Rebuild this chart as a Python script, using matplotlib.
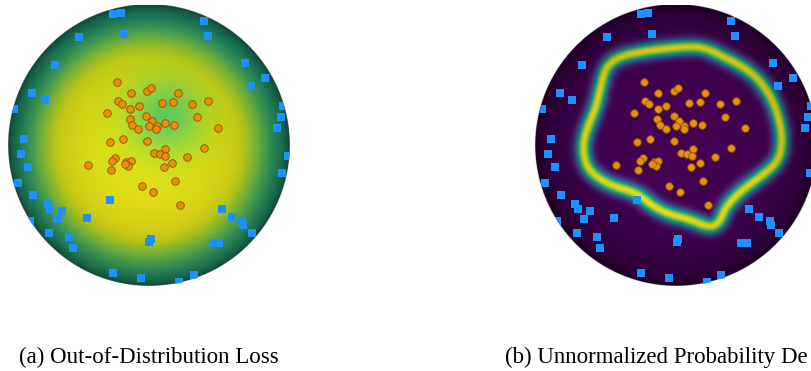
import numpy as np
import matplotlib.pyplot as plt
from matplotlib.patches import Circle

# in-distribution samples (unit-disc coordinates)
id_x = [-0.229, -0.128, -0.016, 0.012, 0.204, 0.421, -0.220, -0.194, -0.073, -0.133,
        0.092, 0.168, 0.305, -0.300, -0.137, -0.021, 0.343, -0.118, -0.076, 0.021,
        -0.002, 0.055, 0.050, 0.116, 0.179, 0.487, -0.277, -0.187, -0.016, 0.388,
        0.116, 0.035, 0.078, 0.111, 0.270, -0.241, -0.260, -0.163, -0.130, -0.147,
        -0.172, -0.430, -0.270, 0.165, 0.104, 0.187, -0.052, 0.026, 0.222]
id_y = [0.448, 0.370, 0.387, 0.410, 0.374, 0.318, 0.316, 0.294, 0.280, 0.259,
        0.299, 0.309, 0.292, 0.233, 0.190, 0.209, 0.200, 0.148, 0.119, 0.172,
        0.138, 0.138, 0.115, 0.157, 0.148, 0.124, 0.027, 0.048, 0.030, -0.016,
        -0.025, -0.053, -0.058, -0.077, -0.079, -0.087, -0.110, -0.119, -0.108, -0.145,
        -0.133, -0.138, -0.174, -0.124, -0.155, -0.252, -0.289, -0.332, -0.420]

# out-of-distribution samples
ood_x = [-0.253, -0.201, -0.177, -0.494, 0.390, 0.416, 0.681, 0.823, 0.721, 0.952,
         0.936, 0.910, 0.984, 0.945, 0.516, 0.587, 0.662, 0.669, 0.730, 0.456,
         0.499, 0.012, 0.002, -0.253, -0.055, 0.215, 0.319, -0.277, -0.931, -0.821,
         -0.718, -0.700, -0.615, -0.655, -0.442, -0.844, -0.707, -0.567, -0.541, -0.957,
         -0.828, -0.738, -0.667, -0.860, -0.910, -0.887]
ood_y = [0.933, 0.938, 0.789, 0.772, 0.883, 0.777, 0.587, 0.477, 0.422, 0.282,
         0.200, 0.124, -0.074, -0.193, -0.452, -0.505, -0.535, -0.562, -0.618, -0.689,
         -0.694, -0.663, -0.687, -0.906, -0.942, -0.966, -0.918, -0.387, -0.264, -0.349,
         -0.415, -0.448, -0.462, -0.521, -0.516, -0.533, -0.618, -0.647, -0.725, 0.257,
         0.370, 0.323, 0.571, -0.150, -0.062, 0.044]

# ridge of the density (traced outline)
ring_x = [0.143, 0.238, 0.332, 0.474, 0.592, 0.687, 0.734, 0.757, 0.734, 0.640,
          0.474, 0.356, 0.309, 0.238, 0.096, -0.046, -0.165, -0.282, -0.448, -0.578,
          -0.649, -0.661, -0.626, -0.566, -0.530, -0.495, -0.401, -0.235, -0.046]
ring_y = [0.701, 0.677, 0.630, 0.559, 0.465, 0.323, 0.181, 0.039, -0.103, -0.197,
          -0.316, -0.434, -0.552, -0.587, -0.528, -0.493, -0.434, -0.339, -0.292, -0.221,
          -0.126, 0.016, 0.133, 0.275, 0.441, 0.559, 0.630, 0.665, 0.689]

captions = ['(a) Out-of-Distribution Loss', '(b) Unnormalized Probability De']

# grid over the disc
N = 600
g = np.linspace(-1, 1, N)
X, Y = np.meshgrid(g, g)
R = np.hypot(X, Y)
Z = np.sqrt(np.clip(1 - R**2, 0, 1))
shade = 0.2 + 0.8 * Z**0.6
alpha = np.clip((1 - R) * N / 2 + 0.5, 0, 1)


def smoothstep(a, b, t):
    u = np.clip((t - a) / (b - a), 0, 1)
    return u * u * (3 - 2 * u)


def chaikin(px, py, n=4):
    p = np.column_stack([px, py])
    for _ in range(n):
        q = np.roll(p, -1, axis=0)
        p = np.stack([0.75 * p + 0.25 * q, 0.25 * p + 0.75 * q], axis=1).reshape(-1, 2)
    return p[:, 0], p[:, 1]


def shaded(v):
    rgba = plt.cm.viridis(np.clip(v, 0, 1))
    rgba[..., :3] *= shade[..., None]
    rgba[..., 3] = alpha
    return rgba


# loss landscape
loss = (0.955 - 0.02 * Y
        - 0.19 * np.exp(-((X - 0.12)**2 + (Y - 0.2)**2) / (2 * 0.19**2))
        - 0.34 * smoothstep(0.6, 1.0, R))

# density ridge
cx, cy = chaikin(ring_x, ring_y)
dist = np.empty_like(X)
for i in range(N):
    dist[i] = np.min(np.hypot(X[i][:, None] - cx[None, :], Y[i][:, None] - cy[None, :]), axis=1)
dens = np.exp(-dist**2 / (2 * 0.037**2))

fig = plt.figure(figsize=(8.12, 3.71), dpi=100)
W, H = 812, 371
positions = [[8 / W, (H - 286.5) / H, 282 / W, 282 / H],
             [535.5 / W, (H - 286.5) / H, 282 / W, 282 / H]]

for pos, field in zip(positions, [loss, dens]):
    ax = fig.add_axes(pos)
    ax.imshow(shaded(field), origin='lower', extent=(-1, 1, -1, 1), zorder=1)
    circ = Circle((0, 0), 1, transform=ax.transData)
    sq = ax.scatter(ood_x, ood_y, s=27, marker='s', c='#1e90ff', linewidths=0, zorder=3)
    sq.set_clip_path(circ)
    ax.scatter(id_x, id_y, s=30, marker='o', c='#e8900a', edgecolors='#8c5000',
               linewidths=0.6, zorder=4)
    ax.set_xlim(-1, 1)
    ax.set_ylim(-1, 1)
    ax.axis('off')

fig.text(149 / W, 8 / H, captions[0], ha='center', va='baseline',
         fontsize=16.5, family='Liberation Serif')
fig.text(505 / W, 8 / H, captions[1], ha='left', va='baseline',
         fontsize=16.5, family='Liberation Serif')

fig.savefig('out.png', dpi=100)
plt.close(fig)
